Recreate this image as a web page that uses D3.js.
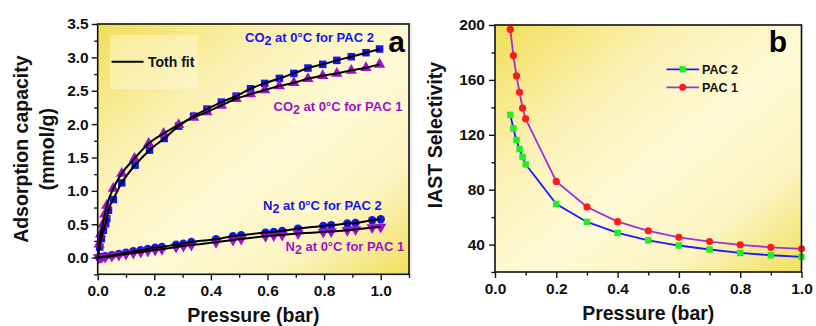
<!DOCTYPE html>
<html>
<head>
<meta charset="utf-8">
<script src="https://cdn.jsdelivr.net/npm/d3@7"></script>
<style>
  html, body { margin: 0; padding: 0; background: #ffffff; }
  svg { display: block; }
  text { font-family: "Liberation Sans", Arial, sans-serif; font-weight: bold; }
</style>
</head>
<body>
<svg id="chart" width="816" height="326"></svg>
<script>
// ---------- Panel a: adsorption isotherms at 0 °C ----------
const co2Pac2X = [0.007, 0.013, 0.020, 0.028, 0.032, 0.038, 0.055, 0.085, 0.132, 0.183, 0.235, 0.286, 0.339, 0.386, 0.437, 0.489, 0.540, 0.590, 0.642, 0.693, 0.743, 0.795, 0.845, 0.896, 0.948, 0.996];
const co2Pac2Y = [0.16, 0.285, 0.41, 0.51, 0.585, 0.71, 0.87, 1.12, 1.385, 1.61, 1.785, 1.97, 2.12, 2.225, 2.33, 2.42, 2.53, 2.61, 2.685, 2.76, 2.84, 2.895, 2.955, 3.01, 3.07, 3.125];

const co2Pac1X = [0.005, 0.010, 0.018, 0.025, 0.032, 0.055, 0.085, 0.130, 0.180, 0.233, 0.286, 0.339, 0.386, 0.437, 0.489, 0.540, 0.590, 0.642, 0.693, 0.743, 0.795, 0.845, 0.896, 0.948, 0.996];
const co2Pac1Y = [0.20, 0.35, 0.50, 0.65, 0.78, 1.035, 1.26, 1.485, 1.71, 1.86, 1.99, 2.10, 2.18, 2.28, 2.38, 2.45, 2.51, 2.57, 2.62, 2.68, 2.725, 2.76, 2.805, 2.845, 2.895];

const n2Pac2X = [0.005, 0.015, 0.026, 0.050, 0.075, 0.100, 0.126, 0.152, 0.177, 0.203, 0.227, 0.277, 0.303, 0.331, 0.418, 0.478, 0.507, 0.593, 0.622, 0.652, 0.708, 0.797, 0.825, 0.882, 0.911, 0.970, 1.000];
const n2Pac2Y = [0.005, 0.01, 0.02, 0.035, 0.055, 0.075, 0.095, 0.11, 0.13, 0.15, 0.16, 0.195, 0.21, 0.235, 0.275, 0.32, 0.335, 0.375, 0.385, 0.40, 0.435, 0.475, 0.485, 0.51, 0.52, 0.56, 0.575];

const n2Pac1X = [0.003, 0.008, 0.015, 0.026, 0.050, 0.075, 0.100, 0.126, 0.152, 0.177, 0.203, 0.227, 0.277, 0.303, 0.331, 0.418, 0.478, 0.507, 0.593, 0.622, 0.652, 0.708, 0.797, 0.825, 0.882, 0.911, 0.970, 1.000];
const n2Pac1Y = [0.0, 0.0, 0.005, 0.01, 0.025, 0.04, 0.055, 0.07, 0.085, 0.10, 0.115, 0.125, 0.16, 0.175, 0.19, 0.23, 0.265, 0.28, 0.32, 0.33, 0.34, 0.36, 0.385, 0.39, 0.41, 0.42, 0.45, 0.46];

const aXTicks = [0.0, 0.2, 0.4, 0.6, 0.8, 1.0];
const aXMinor = [0.1, 0.3, 0.5, 0.7, 0.9, 1.1];
const aYTicks = [0.0, 0.5, 1.0, 1.5, 2.0, 2.5, 3.0, 3.5];
const aYMinor = [-0.25, 0.25, 0.75, 1.25, 1.75, 2.25, 2.75, 3.25];

// ---------- Panel b: IAST selectivity ----------
const iastX = [0.05, 0.06, 0.07, 0.08, 0.09, 0.10, 0.2, 0.3, 0.4, 0.5, 0.6, 0.7, 0.8, 0.9, 1.0];
const iastPac2 = [134.5, 124.6, 116.1, 109.6, 103.8, 98.4, 69.6, 56.5, 48.5, 43.1, 39.3, 36.4, 33.9, 32.2, 31.0];
const iastPac1 = [196.8, 177.7, 162.9, 151.0, 139.4, 131.6, 86.0, 67.4, 56.7, 50.0, 45.3, 42.2, 39.8, 38.0, 36.9];

const bXTicks = [0.0, 0.2, 0.4, 0.6, 0.8, 1.0];
const bXMinor = [0.1, 0.3, 0.5, 0.7, 0.9];
const bYTicks = [40, 80, 120, 160, 200];
const bYMinor = [20, 60, 100, 140, 180];

const svg = d3.select("#chart");
const zip = (xs, ys) => xs.map((x, i) => [x, ys[i]]);

// background gradient shared by both plot areas
const defs = svg.append("defs");
const grad = defs.append("linearGradient").attr("id", "bgGrad")
  .attr("x1", 0).attr("y1", 0).attr("x2", 1).attr("y2", 1);
[[0, "#f1df57"], [0.3, "#fbf1b4"], [0.55, "#fffad6"], [0.78, "#fcf4c0"], [1, "#f0df5c"]]
  .forEach(([o, c]) => grad.append("stop").attr("offset", o).attr("stop-color", c));

function frame(g, x0, y0, x1, y1) {
  g.append("rect").attr("x", x0).attr("y", y0).attr("width", x1 - x0).attr("height", y1 - y0)
    .attr("fill", "url(#bgGrad)");
}
function border(g, x0, y0, x1, y1) {
  g.append("rect").attr("x", x0).attr("y", y0).attr("width", x1 - x0).attr("height", y1 - y0)
    .attr("fill", "none").attr("stroke", "#111").attr("stroke-width", 1.6);
}
function styleAxis(sel, size) {
  sel.select(".domain").remove();
  sel.selectAll(".tick line").attr("stroke", "#111").attr("stroke-width", 1.4);
  sel.selectAll(".tick text").attr("fill", "#111").style("font-size", size + "px")
    .style("font-family", '"Liberation Sans", Arial, sans-serif').style("font-weight", "bold");
}

// ================= Panel a =================
const aL = 97.7, aR = 409, aT = 24, aB = 274.3;
const ax = d3.scaleLinear().domain([0, 1.1]).range([aL, aR]);
const ay = d3.scaleLinear().domain([-0.25, 3.5]).range([aB, aT]);
const ga = svg.append("g");
frame(ga, aL, aT, aR, aB);

// legend backdrop
ga.append("rect").attr("x", 110).attr("y", 35).attr("width", 88).attr("height", 54)
  .attr("fill", "#fffbe0").attr("opacity", 0.45);

const blue = "#1414f0", purple = "#a010c8";

function squares(g, data, xs, ys, color, s) {
  g.selectAll(null).data(data).enter().append("rect")
    .attr("x", d => xs(d[0]) - s / 2).attr("y", d => ys(d[1]) - s / 2)
    .attr("width", s).attr("height", s).attr("fill", color);
}
function circles(g, data, xs, ys, color, r) {
  g.selectAll(null).data(data).enter().append("circle")
    .attr("cx", d => xs(d[0])).attr("cy", d => ys(d[1])).attr("r", r).attr("fill", color);
}
function triangles(g, data, xs, ys, color, size, down) {
  const sym = d3.symbol().type(d3.symbolTriangle).size(size);
  g.selectAll(null).data(data).enter().append("path")
    .attr("d", sym)
    .attr("transform", d => `translate(${xs(d[0])},${ys(d[1])})` + (down ? " rotate(180)" : ""))
    .attr("fill", color);
}

const co2P2 = zip(co2Pac2X, co2Pac2Y), co2P1 = zip(co2Pac1X, co2Pac1Y);
const n2P2 = zip(n2Pac2X, n2Pac2Y), n2P1 = zip(n2Pac1X, n2Pac1Y);

circles(ga, n2P2, ax, ay, blue, 4.2);
triangles(ga, n2P1, ax, ay, purple, 55, true);
squares(ga, co2P2, ax, ay, blue, 7.5);
triangles(ga, co2P1, ax, ay, purple, 55, false);

// Toth fit curves through the measured points
const fitLine = d3.line().x(d => ax(d[0])).y(d => ay(d[1])).curve(d3.curveMonotoneX);
[co2P2, co2P1, n2P2, n2P1].forEach(s => {
  ga.append("path").attr("d", fitLine([[0, 0]].concat(s)))
    .attr("fill", "none").attr("stroke", "#000").attr("stroke-width", 2);
});

border(ga, aL, aT, aR, aB);

const axA = ga.append("g").attr("transform", `translate(0,${aB})`)
  .call(d3.axisBottom(ax).tickValues(aXTicks).tickFormat(d3.format(".1f")).tickSize(6).tickPadding(5));
styleAxis(axA, 15.5);
const axAm = ga.append("g").attr("transform", `translate(0,${aB})`)
  .call(d3.axisBottom(ax).tickValues(aXMinor).tickFormat("").tickSize(3.5));
styleAxis(axAm, 15);
const ayA = ga.append("g").attr("transform", `translate(${aL},0)`)
  .call(d3.axisLeft(ay).tickValues(aYTicks).tickFormat(d3.format(".1f")).tickSize(6).tickPadding(3));
styleAxis(ayA, 15.5);
const ayAm = ga.append("g").attr("transform", `translate(${aL},0)`)
  .call(d3.axisLeft(ay).tickValues(aYMinor).tickFormat("").tickSize(3.5));
styleAxis(ayAm, 15);

ga.append("text").attr("x", (aL + aR) / 2).attr("y", 322).attr("text-anchor", "middle")
  .style("font-size", "19.5px").attr("fill", "#111").text("Pressure (bar)");
ga.append("text").attr("transform", `translate(28,${(aT + aB) / 2}) rotate(-90)`)
  .attr("text-anchor", "middle").style("font-size", "19.5px").attr("fill", "#111").text("Adsorption capacity");
ga.append("text").attr("transform", `translate(54,${(aT + aB) / 2}) rotate(-90)`)
  .attr("text-anchor", "middle").style("font-size", "19.5px").attr("fill", "#111").text("(mmol/g)");

ga.append("text").attr("x", 405).attr("y", 52).attr("text-anchor", "end")
  .style("font-size", "30px").attr("fill", "#000").text("a");

// legend for the fit
ga.append("line").attr("x1", 111.5).attr("x2", 143.5).attr("y1", 61.7).attr("y2", 61.7)
  .attr("stroke", "#000").attr("stroke-width", 2);
ga.append("text").attr("x", 148).attr("y", 66.5).style("font-size", "14px").attr("fill", "#111").text("Toth fit");

function seriesLabel(x, y, gas, pac, color) {
  const t = ga.append("text").attr("x", x).attr("y", y).style("font-size", "13px").attr("fill", color);
  t.append("tspan").text(gas);
  t.append("tspan").attr("dy", 3).style("font-size", "12.5px").text("2");
  t.append("tspan").attr("dy", -3).text(" at 0°C for " + pac);
}
seriesLabel(245, 42, "CO", "PAC 2", blue);
seriesLabel(273.5, 111, "CO", "PAC 1", purple);
seriesLabel(263, 210, "N", "PAC 2", blue);
seriesLabel(285.5, 251, "N", "PAC 1", purple);

// faint divider between the panels
svg.append("line").attr("x1", 411).attr("x2", 411).attr("y1", 22).attr("y2", 277)
  .attr("stroke", "#dcdcdc").attr("stroke-width", 1.2);

// ================= Panel b =================
const bL = 495, bR = 801.5, bT = 25, bB = 272;
const bx = d3.scaleLinear().domain([0, 1]).range([bL, bR]);
const by = d3.scaleLinear().domain([20, 200]).range([bB, bT]);
const gb = svg.append("g");
frame(gb, bL, bT, bR, bB);

const lineB = d3.line().x(d => bx(d[0])).y(d => by(d[1]));
const p2 = zip(iastX, iastPac2), p1 = zip(iastX, iastPac1);
const blueLine = "#1a1aff", purpleLine = "#a030d8";
gb.append("path").attr("d", lineB(p2)).attr("fill", "none").attr("stroke", blueLine).attr("stroke-width", 1.8);
gb.append("path").attr("d", lineB(p1)).attr("fill", "none").attr("stroke", purpleLine).attr("stroke-width", 1.8);
squares(gb, p2, bx, by, "#22ee22", 6.5);
circles(gb, p1, bx, by, "#ff1a1a", 3.6);

border(gb, bL, bT, bR, bB);

const axB = gb.append("g").attr("transform", `translate(0,${bB})`)
  .call(d3.axisBottom(bx).tickValues(bXTicks).tickFormat(d3.format(".1f")).tickSize(6).tickPadding(5));
styleAxis(axB, 15.5);
const axBm = gb.append("g").attr("transform", `translate(0,${bB})`)
  .call(d3.axisBottom(bx).tickValues(bXMinor).tickFormat("").tickSize(3.5));
styleAxis(axBm, 15);
const ayB = gb.append("g").attr("transform", `translate(${bL},0)`)
  .call(d3.axisLeft(by).tickValues(bYTicks).tickFormat(d3.format("d")).tickSize(6).tickPadding(4));
styleAxis(ayB, 15.5);
const ayBm = gb.append("g").attr("transform", `translate(${bL},0)`)
  .call(d3.axisLeft(by).tickValues(bYMinor).tickFormat("").tickSize(3.5));
styleAxis(ayBm, 15);

gb.append("text").attr("x", (bL + bR) / 2).attr("y", 320).attr("text-anchor", "middle")
  .style("font-size", "19.5px").attr("fill", "#111").text("Pressure (bar)");
gb.append("text").attr("transform", `translate(442,135) rotate(-90)`)
  .attr("text-anchor", "middle").style("font-size", "19.5px").attr("fill", "#111").text("IAST Selectivity");

gb.append("text").attr("x", 787).attr("y", 52).attr("text-anchor", "end")
  .style("font-size", "30px").attr("fill", "#000").text("b");

// legend
const legB = [["PAC 2", blueLine, "#22ee22", "sq", 69.3], ["PAC 1", purpleLine, "#ff1a1a", "ci", 87.3]];
legB.forEach(([name, lc, mc, kind, y]) => {
  gb.append("line").attr("x1", 666.5).attr("x2", 699).attr("y1", y).attr("y2", y)
    .attr("stroke", lc).attr("stroke-width", 1.8);
  if (kind === "sq") {
    gb.append("rect").attr("x", 682.7 - 3.2).attr("y", y - 3.2).attr("width", 6.4).attr("height", 6.4).attr("fill", mc);
  } else {
    gb.append("circle").attr("cx", 682.7).attr("cy", y).attr("r", 3.5).attr("fill", mc);
  }
  gb.append("text").attr("x", 702).attr("y", y + 4.6).style("font-size", "12.5px").attr("fill", "#111").text(name);
});
</script>
</body>
</html>
